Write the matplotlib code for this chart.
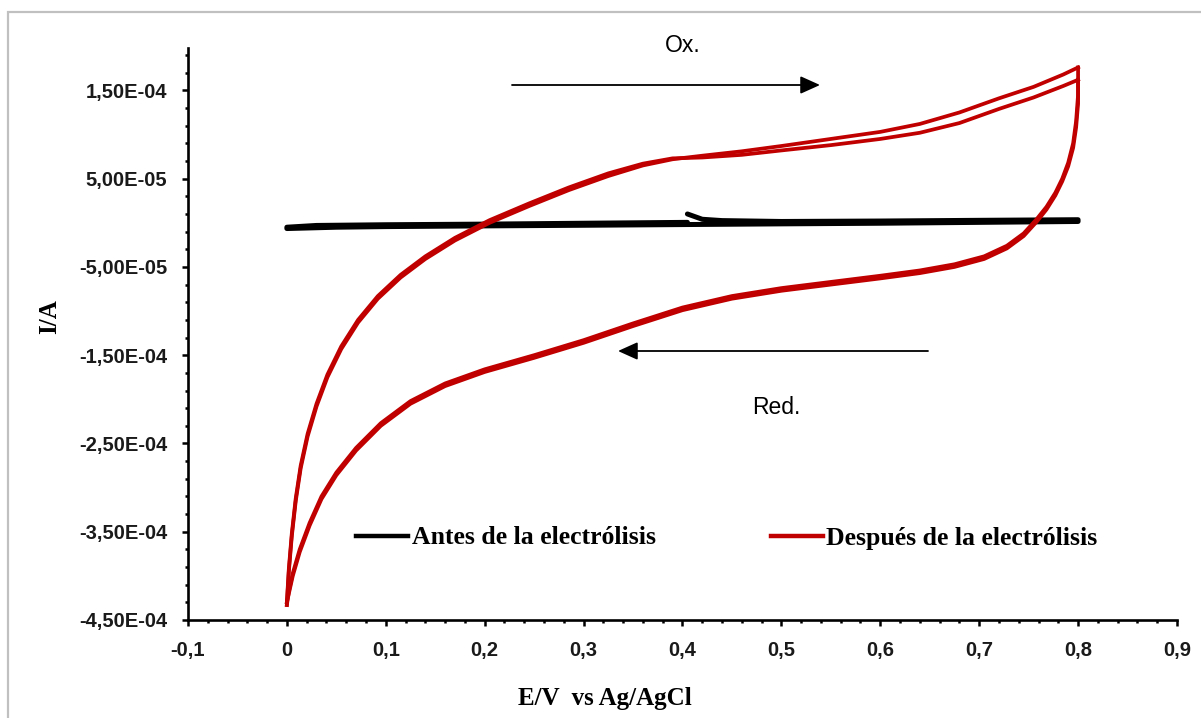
import numpy as np
import matplotlib
matplotlib.use("Agg")
import matplotlib.pyplot as plt
from matplotlib import font_manager
from matplotlib.patches import Rectangle
from matplotlib.lines import Line2D

# red curve (after electrolysis), two cycles; forward (anodic) branch
E_fwd = [0.000, 0.002, 0.005, 0.009, 0.014, 0.021, 0.030, 0.041, 0.055, 0.072,
         0.092, 0.115, 0.140, 0.170, 0.205, 0.245, 0.285, 0.325, 0.360, 0.390,
         0.420, 0.460, 0.500, 0.550, 0.600, 0.640, 0.680, 0.720, 0.755, 0.785, 0.800]
I_fwd_1 = [-4.33e-4, -3.95e-4, -3.55e-4, -3.15e-4, -2.78e-4, -2.42e-4, -2.08e-4,
           -1.75e-4, -1.43e-4, -1.13e-4, -8.6e-5, -6.2e-5, -4.1e-5, -2.0e-5, 0.0,
           1.9e-5, 3.7e-5, 5.3e-5, 6.5e-5, 7.2e-5, 7.6e-5, 8.1e-5, 8.7e-5, 9.5e-5,
           1.03e-4, 1.12e-4, 1.25e-4, 1.41e-4, 1.54e-4, 1.68e-4, 1.76e-4]
I_fwd_2 = [-4.30e-4, -3.92e-4, -3.52e-4, -3.12e-4, -2.75e-4, -2.39e-4, -2.05e-4,
           -1.72e-4, -1.40e-4, -1.10e-4, -8.3e-5, -5.9e-5, -3.8e-5, -1.7e-5, 3.0e-6,
           2.2e-5, 4.0e-5, 5.6e-5, 6.7e-5, 7.3e-5, 7.4e-5, 7.7e-5, 8.2e-5, 8.8e-5,
           9.5e-5, 1.02e-4, 1.13e-4, 1.29e-4, 1.42e-4, 1.55e-4, 1.62e-4]

# reverse (cathodic) branch
E_rev = [0.800, 0.800, 0.798, 0.795, 0.790, 0.784, 0.777, 0.768, 0.758, 0.745,
         0.728, 0.705, 0.675, 0.640, 0.600, 0.550, 0.500, 0.450, 0.400, 0.350,
         0.300, 0.250, 0.200, 0.160, 0.125, 0.095, 0.070, 0.050, 0.035, 0.023,
         0.013, 0.006, 0.002, 0.000]
I_rev_1 = [1.76e-4, 1.45e-4, 1.15e-4, 9.0e-5, 6.8e-5, 5.0e-5, 3.4e-5, 1.8e-5,
           4.0e-6, -1.2e-5, -2.6e-5, -3.8e-5, -4.7e-5, -5.4e-5, -6.0e-5, -6.7e-5,
           -7.4e-5, -8.3e-5, -9.6e-5, -1.14e-4, -1.33e-4, -1.50e-4, -1.66e-4,
           -1.82e-4, -2.02e-4, -2.27e-4, -2.55e-4, -2.83e-4, -3.10e-4, -3.40e-4,
           -3.70e-4, -3.97e-4, -4.18e-4, -4.33e-4]
I_rev_2 = [1.62e-4, 1.35e-4, 1.08e-4, 8.5e-5, 6.4e-5, 4.7e-5, 3.1e-5, 1.5e-5,
           1.0e-6, -1.5e-5, -2.9e-5, -4.1e-5, -5.0e-5, -5.7e-5, -6.3e-5, -7.0e-5,
           -7.7e-5, -8.6e-5, -9.9e-5, -1.17e-4, -1.36e-4, -1.53e-4, -1.69e-4,
           -1.85e-4, -2.05e-4, -2.30e-4, -2.58e-4, -2.86e-4, -3.13e-4, -3.43e-4,
           -3.73e-4, -4.00e-4, -4.20e-4, -4.30e-4]

# black curve (before electrolysis), starts at 0.405 V
E_black = [0.405, 0.420, 0.440, 0.500, 0.600, 0.700, 0.800, 0.800, 0.700, 0.600,
           0.500, 0.400, 0.300, 0.200, 0.100, 0.050, 0.000, 0.000, 0.030, 0.100,
           0.200, 0.300, 0.405]
I_black = [1.0e-5, 4.0e-6, 2.5e-6, 1.5e-6, 2.0e-6, 2.8e-6, 3.5e-6, 1.5e-6, 0.5e-6,
           -0.5e-6, -1.2e-6, -2.0e-6, -2.8e-6, -3.5e-6, -4.3e-6, -5.0e-6, -6.5e-6,
           -5.0e-6, -3.0e-6, -2.2e-6, -1.5e-6, -0.5e-6, 0.5e-6]

x_ticks = [-0.1, 0, 0.1, 0.2, 0.3, 0.4, 0.5, 0.6, 0.7, 0.8, 0.9]
x_labels = ["-0,1", "0", "0,1", "0,2", "0,3", "0,4", "0,5", "0,6", "0,7", "0,8", "0,9"]
y_ticks = [1.5e-4, 5e-5, -5e-5, -1.5e-4, -2.5e-4, -3.5e-4, -4.5e-4]

red = "#C00000"

names = {f.name for f in font_manager.fontManager.ttflist}
if "Liberation Sans Narrow" in names:
    tick_font, tick_size = "Liberation Sans Narrow", 17.5
else:
    tick_font, tick_size = "Liberation Sans", 14.5
serif = "Liberation Serif"

fig = plt.figure(figsize=(12.01, 7.18), dpi=100)
ax = fig.add_axes([0.1565, 0.1365, 0.8235, 0.7966])

ax.plot(E_black, I_black, color="black", lw=3.6, solid_capstyle="round",
        solid_joinstyle="round")
for E, I in [(E_fwd, I_fwd_1), (E_fwd, I_fwd_2), (E_rev, I_rev_1), (E_rev, I_rev_2)]:
    ax.plot(E, I, color=red, lw=2.7, solid_joinstyle="round")

ax.set_xlim(-0.1, 0.9)
ax.set_ylim(-4.5e-4, 1.98e-4)

ax.set_xticks(x_ticks)
ax.set_xticklabels(x_labels)
ax.set_xticks(np.arange(-0.1, 0.901, 0.02), minor=True)
ax.set_yticks(y_ticks)
ax.set_yticklabels([("%.2E" % v).replace(".", ",") for v in y_ticks])
ax.set_yticks(np.arange(-4.5e-4, 1.98e-4, 2e-5), minor=True)

for s in ["top", "right"]:
    ax.spines[s].set_visible(False)
for s in ["left", "bottom"]:
    ax.spines[s].set_linewidth(1.9)

ax.tick_params(which="major", direction="out", length=4, width=1.8, pad=11)
ax.tick_params(which="minor", direction="out", length=2.5, width=1.8)
for lab in ax.get_xticklabels() + ax.get_yticklabels():
    lab.set_fontfamily(tick_font)
    lab.set_fontsize(tick_size)
    lab.set_fontweight("bold")
    lab.set_color("#1a1a1a")

fig.text(50 / 1201, 1 - 317 / 718, "I/A", rotation=90, ha="center", va="center",
         family=serif, weight="bold", size=18)
fig.text(605 / 1201, 1 - 705 / 718, "E/V  vs Ag/AgCl", ha="center", va="baseline",
         family=serif, weight="bold", size=18)

fig.text(665 / 1201, 1 - 52 / 718, "Ox.", ha="left", va="baseline",
         family="Liberation Sans", size=16.5)
fig.text(752 / 1201, 1 - 414 / 718, "Red.", ha="left", va="baseline",
         family="Liberation Sans", size=16.5)

arrow = dict(arrowstyle="-|>,head_length=1.0,head_width=0.45", lw=1.3,
             color="black", shrinkA=0, shrinkB=0, mutation_scale=12)
ax.annotate("", xy=(820, 718 - 85), xytext=(512, 718 - 85),
            xycoords="figure pixels", textcoords="figure pixels", arrowprops=arrow)
ax.annotate("", xy=(618, 718 - 351), xytext=(928, 718 - 351),
            xycoords="figure pixels", textcoords="figure pixels", arrowprops=arrow)

handles = [Line2D([], [], color="black", lw=3.2),
           Line2D([], [], color=red, lw=3.2)]
ax.legend(handles, ["Antes de la electrólisis", "Después de la electrólisis"],
          ncol=2, loc="center", bbox_to_anchor=(727 / 1201, 1 - 538 / 718),
          bbox_transform=fig.transFigure, frameon=False,
          prop={"family": serif, "weight": "bold", "size": 18.5},
          handlelength=2.0, handletextpad=0.15, columnspacing=4.5)

border = Rectangle((8 / 1201, -0.1), 1.2, 1.1 - 12 / 718, transform=fig.transFigure,
                   fill=False, edgecolor="#c0c0c0", lw=1.6, clip_on=False)
fig.add_artist(border)

fig.savefig("out.png", dpi=100)
